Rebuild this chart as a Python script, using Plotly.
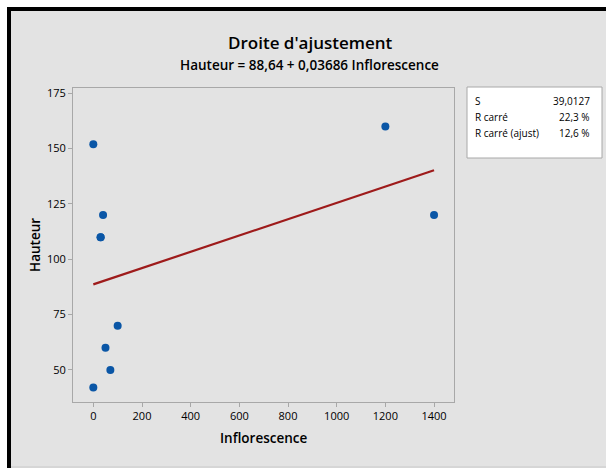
import numpy as np
import plotly.graph_objects as go

# Data (one duplicated point at (30, 110))
inflorescence = [0, 0, 30, 30, 40, 50, 70, 100, 1200, 1400]
hauteur = [152, 42, 110, 110, 120, 60, 50, 70, 160, 120]

x_ticks = [0, 200, 400, 600, 800, 1000, 1200, 1400]
y_ticks = [50, 75, 100, 125, 150, 175]

stat_labels = ["S", "R carré", "R carré (ajust)"]
stat_values = ["39,0127", "22,3 %", "12,6 %"]

title_text = "Droite d'ajustement"
subtitle_text = "Hauteur = 88,64 + 0,03686 Inflorescence"

# Fit line from the data
slope, intercept = np.polyfit(inflorescence, hauteur, 1)
xl = np.linspace(min(inflorescence), max(inflorescence), 50)
yl = intercept + slope * xl

W, H = 606, 468
L, R, T, B = 73, 454, 88, 402  # plot area in pixels


def px(x):
    return (x - L) / (R - L)


def py(y):
    return (B - y) / (B - T)


BG = "#e3e3e3"
FONT = "Open Sans"

fig = go.Figure()
fig.add_trace(go.Scatter(x=xl, y=yl, mode="lines",
                         line=dict(color="#9e1b1b", width=2.2),
                         hoverinfo="skip", showlegend=False))
fig.add_trace(go.Scatter(x=inflorescence, y=hauteur, mode="markers",
                         marker=dict(color="#0a56a6", size=8),
                         showlegend=False))

shapes = [
    dict(type="rect", xref="paper", yref="paper", x0=px(-5), x1=px(W + 5), y0=py(-5), y1=py(H + 5),
         fillcolor="white", line_width=0, layer="below"),
    dict(type="rect", xref="paper", yref="paper", x0=px(7), x1=px(W + 5), y0=py(7), y1=py(H + 5),
         fillcolor="black", line_width=0, layer="below"),
    dict(type="rect", xref="paper", yref="paper", x0=px(11), x1=px(W + 5), y0=py(11), y1=py(466),
         fillcolor=BG, line_width=0, layer="below"),
    dict(type="rect", xref="paper", yref="paper", x0=px(11), x1=px(W + 5), y0=py(466), y1=py(H + 5),
         fillcolor="#d6d6d6", line_width=0, layer="below"),
    dict(type="rect", xref="paper", yref="paper", x0=px(467), x1=px(602), y0=py(87), y1=py(158),
         fillcolor="white", line=dict(color="#a8a8a8", width=1), layer="below"),
]

annotations = [
    dict(text=title_text, x=px(310), y=py(42), xref="paper", yref="paper", showarrow=False,
         xanchor="center", yanchor="middle", font=dict(family=FONT, size=17, color="black", weight=600)),
    dict(text=subtitle_text, x=px(309), y=py(65), xref="paper", yref="paper", showarrow=False,
         xanchor="center", yanchor="middle", font=dict(family=FONT, size=13.5, color="black", weight=600)),
    dict(text="Inflorescence", x=px((L + R) / 2), y=py(438), xref="paper", yref="paper", showarrow=False,
         xanchor="center", yanchor="middle", font=dict(family=FONT, size=13.5, color="black", weight=600)),
    dict(text="Hauteur", x=px(35), y=py((T + B) / 2), xref="paper", yref="paper", showarrow=False,
         textangle=-90, xanchor="center", yanchor="middle",
         font=dict(family=FONT, size=13.5, color="black", weight=600)),
]
for i, (lab, val) in enumerate(zip(stat_labels, stat_values)):
    yy = 101 + i * 16
    annotations.append(dict(text=lab, x=px(473), y=py(yy), xref="paper", yref="paper", showarrow=False,
                            xanchor="left", yanchor="middle", font=dict(family=FONT, size=10, color="black")))
    annotations.append(dict(text=val, x=px(592), y=py(yy), xref="paper", yref="paper", showarrow=False,
                            xanchor="right", yanchor="middle", font=dict(family=FONT, size=10, color="black")))

axis_common = dict(showgrid=False, zeroline=False, showline=True, linecolor="#a8a8a8", linewidth=1,
                   mirror=True, ticks="outside", ticklen=4, tickcolor="#a8a8a8",
                   tickfont=dict(family=FONT, size=11, color="black"))

fig.update_layout(
    width=W, height=H,
    margin=dict(l=L, r=W - R, t=T, b=H - B, pad=0),
    paper_bgcolor=BG, plot_bgcolor="white",
    xaxis=dict(range=[-83.5, 1482], tickvals=x_ticks, **axis_common),
    yaxis=dict(range=[35.5, 177.4], tickvals=y_ticks, **axis_common),
    shapes=shapes, annotations=annotations,
)

fig.write_html("out.html")
